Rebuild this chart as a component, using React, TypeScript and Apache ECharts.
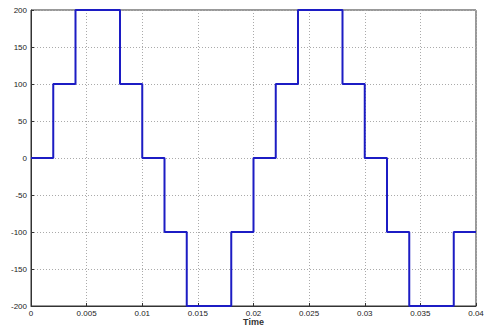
import React, { useEffect, useRef } from "react";
import * as echarts from "echarts";

const times = [0, 0.002, 0.004, 0.008, 0.01, 0.012, 0.014, 0.018, 0.02, 0.022, 0.024, 0.028, 0.03, 0.032, 0.034, 0.038, 0.04];
const levels = [0, 100, 200, 100, 0, -100, -200, -100, 0, 100, 200, 100, 0, -100, -200, -100, -100];
const xTicks = [0, 0.005, 0.01, 0.015, 0.02, 0.025, 0.03, 0.035, 0.04];
const xTitle = "Time";

export default function App() {
  const ref = useRef<HTMLDivElement>(null);
  useEffect(() => {
    const chart = echarts.init(ref.current!, null, { renderer: "svg" });
    const labelStyle = { color: "#222", fontSize: 8, fontFamily: "Liberation Sans" };
    const gridLine = { show: true, lineStyle: { color: "#aaa", type: [1, 2] as any, width: 1 } };
    chart.setOption({
      animation: false,
      backgroundColor: "#fff",
      grid: {
        left: 31, right: 9, top: 10, bottom: 23,
        show: true, borderColor: "#333", borderWidth: 1,
        containLabel: false, outerBoundsMode: "none",
      },
      xAxis: {
        type: "value",
        min: 0,
        max: 0.04,
        interval: 0.005,
        name: xTitle,
        nameLocation: "middle",
        nameGap: 11,
        nameMoveOverlap: false,
        nameTextStyle: { ...labelStyle, fontSize: 9, fontWeight: "bold", color: "#333", verticalAlign: "top", lineHeight: 10 },
        axisLine: { show: true, onZero: false, lineStyle: { color: "#333" } },
        axisTick: { show: true, inside: true, length: 3, lineStyle: { color: "#333" } },
        axisLabel: {
          ...labelStyle,
          margin: 3,
          formatter: (v: number) => {
            const t = xTicks.find((x) => Math.abs(x - v) < 1e-9);
            return t === undefined ? "" : String(parseFloat(t.toFixed(3)));
          },
        },
        splitLine: gridLine,
      },
      yAxis: {
        type: "value",
        min: -200,
        max: 200,
        interval: 50,
        axisLine: { show: true, onZero: false, lineStyle: { color: "#333" } },
        axisTick: { show: true, inside: true, length: 3, lineStyle: { color: "#333" } },
        axisLabel: { ...labelStyle, margin: 4 },
        splitLine: gridLine,
      },
      series: [
        {
          type: "line",
          step: "end",
          symbol: "none",
          data: times.map((t, i) => [t, levels[i]]),
          lineStyle: { color: "#1c1cc4", width: 2 },
        },
      ],
    });
    return () => chart.dispose();
  }, []);
  return <div ref={ref} style={{ position: "fixed", left: 0, top: 0, width: 485, height: 329 }} />;
}
